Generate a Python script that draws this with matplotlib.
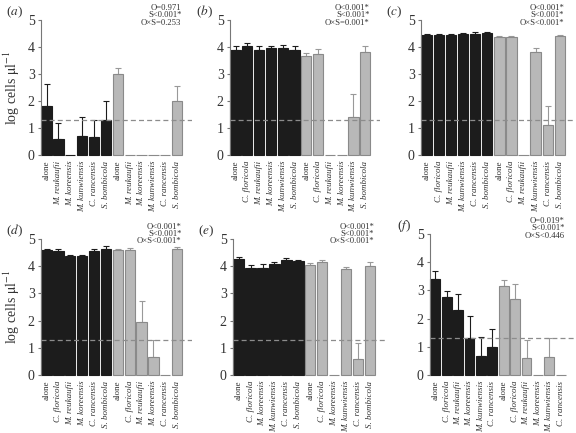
import numpy as np
import matplotlib
matplotlib.use("Agg")
import matplotlib.pyplot as plt

plt.rcParams["font.family"] = ["Liberation Serif", "DejaVu Serif"]
plt.rcParams["mathtext.fontset"] = "stix"

# panel data: labels, means (log cells/ul), upper error lengths, stats text
labels_a = ["alone", "M. reukaufii", "M. koreensis", "M. kunwiensis", "C. rancensis", "S. bombicola",
            "alone", "M. reukaufii", "M. koreensis", "M. kunwiensis", "C. rancensis", "S. bombicola"]
means_a = [1.82, 0.60, 0.0, 0.70, 0.65, 1.30, 3.00, 0.0, 0.0, 0.0, 0.0, 2.00]
errs_a = [0.80, 0.58, 0.0, 0.70, 0.65, 0.70, 0.22, 0.0, 0.0, 0.0, 0.0, 0.57]
stats_a = "O=0.971\nS<0.001*\nO×S=0.253"

labels_b = ["alone", "C. floricola", "M. reukaufii", "M. koreensis", "M. kunwiensis", "S. bombicola",
            "alone", "C. floricola", "M. reukaufii", "M. koreensis", "M. kunwiensis", "S. bombicola"]
means_b = [3.88, 4.02, 3.90, 3.97, 3.95, 3.90, 3.68, 3.73, 0.0, 0.0, 1.40, 3.82]
errs_b = [0.17, 0.11, 0.12, 0.08, 0.11, 0.12, 0.10, 0.20, 0.0, 0.0, 0.85, 0.21]
stats_b = "O<0.001*\nS<0.001*\nO×S=0.001*"

labels_c = ["alone", "C. floricola", "M. reukaufii", "M. kunwiensis", "C. rancensis", "S. bombicola",
            "alone", "C. floricola", "M. reukaufii", "M. kunwiensis", "C. rancensis", "S. bombicola"]
means_c = [4.45, 4.46, 4.45, 4.47, 4.50, 4.53, 4.38, 4.38, 0.0, 3.82, 1.12, 4.42]
errs_c = [0.03, 0.02, 0.02, 0.04, 0.04, 0.02, 0.03, 0.03, 0.0, 0.15, 0.68, 0.04]
stats_c = "O<0.001*\nS<0.001*\nO×S<0.001*"

labels_d = ["alone", "C. floricola", "M. reukaufii", "M. koreensis", "C. rancensis", "S. bombicola",
            "alone", "C. floricola", "M. reukaufii", "M. koreensis", "C. rancensis", "S. bombicola"]
means_d = [4.60, 4.57, 4.37, 4.36, 4.56, 4.62, 4.60, 4.60, 1.95, 0.65, 0.0, 4.65]
errs_d = [0.03, 0.07, 0.05, 0.06, 0.07, 0.12, 0.05, 0.08, 0.78, 0.65, 0.0, 0.07]
stats_d = "O<0.001*\nS<0.001*\nO×S<0.001*"

labels_e = ["alone", "C. floricola", "M. koreensis", "M. kunwiensis", "C. rancensis", "S. bombicola",
            "alone", "C. floricola", "M. koreensis", "M. kunwiensis", "C. rancensis", "S. bombicola"]
means_e = [4.26, 3.93, 3.95, 4.07, 4.22, 4.18, 4.06, 4.15, 0.0, 3.90, 0.58, 4.00]
errs_e = [0.07, 0.12, 0.14, 0.08, 0.07, 0.05, 0.04, 0.08, 0.0, 0.08, 0.60, 0.16]
stats_e = "O<0.001*\nS<0.001*\nO×S<0.001*"

labels_f = ["alone", "C. floricola", "M. reukaufii", "M. koreensis", "M. kunwiensis", "C. rancensis",
            "alone", "C. floricola", "M. reukaufii", "M. koreensis", "M. kunwiensis", "C. rancensis"]
means_f = [3.40, 2.75, 2.30, 1.30, 0.67, 1.00, 3.15, 2.70, 0.62, 0.0, 0.65, 0.0]
errs_f = [0.30, 0.23, 0.58, 0.80, 0.67, 0.64, 0.23, 0.53, 0.63, 0.0, 0.67, 0.0]
stats_f = "O=0.019*\nS<0.001*\nO×S<0.446"

detection_limit = 1.3

panels = [
    ("a", labels_a, means_a, errs_a, stats_a, [41, 20, 192, 155]),
    ("b", labels_b, means_b, errs_b, stats_b, [230, 20, 380, 155]),
    ("c", labels_c, means_c, errs_c, stats_c, [421, 20, 575, 155]),
    ("d", labels_d, means_d, errs_d, stats_d, [41, 239, 192, 375]),
    ("e", labels_e, means_e, errs_e, stats_e, [233, 239, 385, 375]),
    ("f", labels_f, means_f, errs_f, stats_f, [430, 234, 575, 375]),
]

W, H = 576, 433
fig = plt.figure(figsize=(W / 100, H / 100), dpi=100)

dark = "#1c1c1c"
light = "#b8b8b8"
light_edge = "#8a8a8a"

for letter, labels, means, errs, stats, box in panels:
    x0, ytop, x1, ybot = box
    ax = fig.add_axes([x0 / W, 1 - ybot / H, (x1 - x0) / W, (ybot - ytop) / H])
    x = np.arange(len(labels))
    means = np.array(means)
    errs = np.array(errs)
    colors = [dark] * 6 + [light] * 6
    edges = [dark] * 6 + [light_edge] * 6
    bars = ax.bar(x, means, width=0.86, color=colors, edgecolor=edges, linewidth=0.8, zorder=2)
    for b in bars:
        b.set_clip_on(False)
    for i in range(len(x)):
        if errs[i] > 0:
            ec = dark if i < 6 else "#999999"
            ax.errorbar(x[i], means[i], yerr=[[0], [errs[i]]], fmt="none", ecolor=ec,
                        elinewidth=0.8, capsize=2.5, capthick=0.8, zorder=1)
    ax.axhline(detection_limit, color="#8c8c8c", linestyle=(0, (4, 2.5)), linewidth=0.9, zorder=3)
    ax.set_xlim(-0.47, 12.25)
    ax.set_ylim(0, 5)
    ax.set_yticks([0, 1, 2, 3, 4, 5])
    for s in ["top", "right", "bottom"]:
        ax.spines[s].set_visible(False)
    ax.spines["left"].set_color("#777777")
    ax.spines["left"].set_linewidth(0.8)
    ax.tick_params(axis="y", direction="out", length=2.5, width=0.8, color="#777777",
                   labelsize=10, labelcolor="#333333", pad=2)
    ax.set_xticks(x)
    ax.set_xticklabels(labels, rotation=90, fontsize=6.5, color="#333333")
    for lab in ax.get_xticklabels():
        if lab.get_text() != "alone":
            lab.set_style("italic")
    ax.tick_params(axis="x", length=0, pad=4)
    ax.text(0.93, 1.12, stats, transform=ax.transAxes, ha="right", va="top",
            fontsize=6.2, linespacing=0.9, color="#333333")
    ax.text(-0.23, 1.06, r"($\it{" + letter + r"}$)", transform=ax.transAxes, ha="left",
            va="center", fontsize=9.5, color="#333333")
    if letter in ("a", "d"):
        ax.set_ylabel(r"log cells $\mathrm{\mu l^{-1}}$", fontsize=10, color="#333333", labelpad=4)

fig.savefig("out.png", dpi=100)
